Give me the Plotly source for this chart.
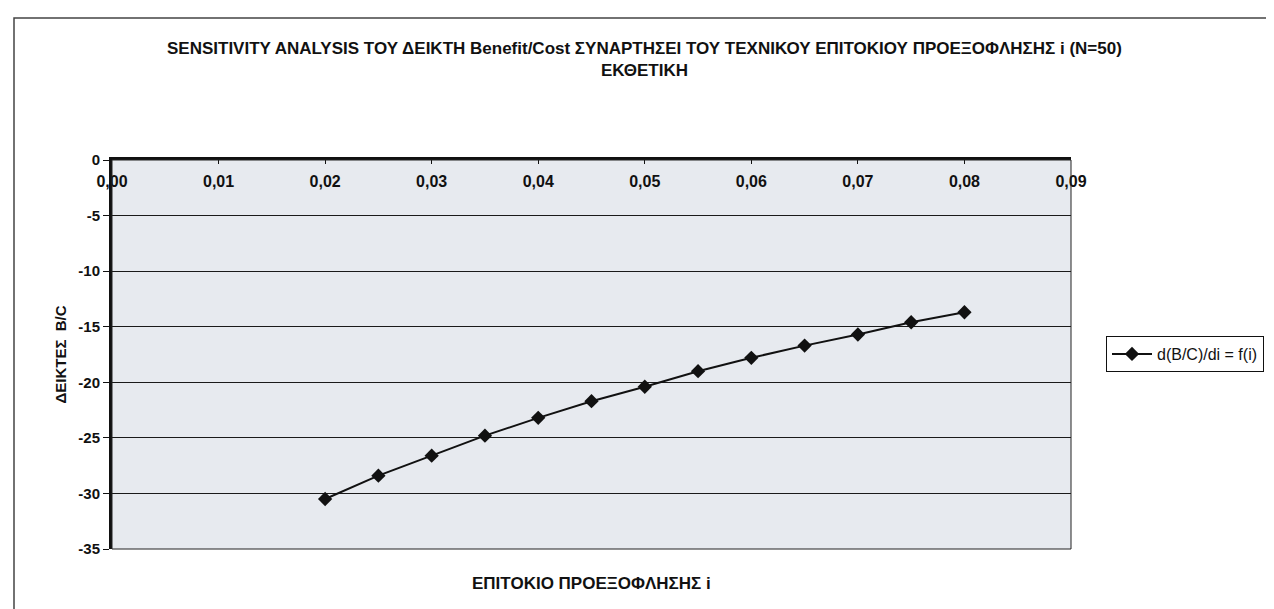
import plotly.graph_objects as go

# Data
rate_i = [0.020, 0.025, 0.030, 0.035, 0.040, 0.045, 0.050, 0.055, 0.060, 0.065, 0.070, 0.075, 0.080]
dbc_di = [-30.5, -28.4, -26.6, -24.8, -23.2, -21.7, -20.4, -19.0, -17.8, -16.7, -15.7, -14.6, -13.7]
x_ticks = [0.00, 0.01, 0.02, 0.03, 0.04, 0.05, 0.06, 0.07, 0.08, 0.09]
x_tick_labels = ["0,00", "0,01", "0,02", "0,03", "0,04", "0,05", "0,06", "0,07", "0,08", "0,09"]
y_ticks = [0, -5, -10, -15, -20, -25, -30, -35]
y_tick_labels = ["0", "-5", "-10", "-15", "-20", "-25", "-30", "-35"]

series_name = "d(B/C)/di = f(i)"
title_line1 = "SENSITIVITY ANALYSIS ΤΟΥ ΔΕΙΚΤΗ Benefit/Cost ΣΥΝΑΡΤΗΣΕΙ ΤΟΥ ΤΕΧΝΙΚΟΥ ΕΠΙΤΟΚΙΟΥ ΠΡΟΕΞΟΦΛΗΣΗΣ i (N=50)"
title_line2 = "ΕΚΘΕΤΙΚΗ"
x_title = "ΕΠΙΤΟΚΙΟ ΠΡΟΕΞΟΦΛΗΣΗΣ i"
y_title = "ΔΕΙΚΤΕΣ  B/C"

FONT = "Liberation Sans, Arial, sans-serif"
INK = "#111111"
W, H = 1274, 609
L, R, T, B = 104, 211, 152, 68
pw, ph = W - L - R, H - T - B


def px_x(p):
    return (p - L) / pw


def px_y(p):
    return (H - B - p) / ph


fig = go.Figure()
fig.add_trace(go.Scatter(
    x=rate_i, y=dbc_di, mode="lines+markers", name=series_name,
    line=dict(color=INK, width=2),
    marker=dict(symbol="diamond", size=11, color=INK),
))
# invisible companion trace so the label axis (xaxis2) is laid out
fig.add_trace(go.Scatter(
    x=rate_i, y=dbc_di, xaxis="x2", mode="markers", showlegend=False,
    hoverinfo="skip", marker=dict(opacity=0),
))

fig.update_layout(
    width=W, height=H,
    margin=dict(l=L, r=R, t=T, b=B, autoexpand=False),
    paper_bgcolor="white",
    plot_bgcolor="#e7eaef",
    font=dict(family=FONT, color=INK),
    showlegend=True,
    legend=dict(
        x=px_x(1098), xanchor="left", y=px_y(346), yanchor="middle",
        bordercolor=INK, borderwidth=1, bgcolor="white",
        font=dict(size=16, family=FONT, color=INK),
        itemwidth=40,
    ),
    xaxis=dict(
        range=[0, 0.09], side="top", tickvals=x_ticks, showticklabels=False,
        ticks="inside", ticklen=4, tickcolor=INK,
        showline=True, linecolor=INK, linewidth=3,
        showgrid=False, zeroline=False,
    ),
    xaxis2=dict(
        matches="x", overlaying="x", anchor="free", position=px_y(182), side="top",
        tickvals=x_ticks, ticktext=x_tick_labels, ticks="", showline=False,
        showgrid=False, zeroline=False, ticklabelstandoff=0,
        tickfont=dict(size=16, family=FONT, color=INK, weight="bold"),
    ),
    yaxis=dict(
        range=[-35, 0], tickvals=y_ticks, ticktext=y_tick_labels,
        ticks="outside", ticklen=6, tickcolor=INK,
        showline=True, linecolor=INK, linewidth=3,
        showgrid=True, gridcolor="#1a1a1a", gridwidth=1.2,
        zeroline=False,
        tickfont=dict(size=15, family=FONT, color=INK, weight="bold"),
    ),
    shapes=[
        dict(type="rect", xref="paper", yref="paper", x0=0, x1=1, y0=0, y1=1,
             line=dict(color="#222222", width=1), layer="above"),
        dict(type="rect", xref="paper", yref="paper",
             x0=px_x(6), x1=px_x(1300), y0=px_y(640), y1=px_y(10),
             line=dict(color="#444444", width=1.5), layer="below"),
    ],
    annotations=[
        dict(text="<b>" + title_line1 + "</b><br><b>" + title_line2 + "</b>",
             xref="paper", yref="paper", x=px_x(636), y=px_y(52),
             xanchor="center", yanchor="middle", showarrow=False,
             font=dict(size=17, family=FONT, color=INK)),
        dict(text="<b>" + x_title + "</b>", xref="paper", yref="paper",
             x=0.5, y=px_y(575), xanchor="center", yanchor="middle", showarrow=False,
             font=dict(size=17, family=FONT, color=INK)),
        dict(text="<b>" + y_title + "</b>", xref="paper", yref="paper",
             x=px_x(52), y=0.5, xanchor="center", yanchor="middle", showarrow=False,
             textangle=-90, font=dict(size=15, family=FONT, color=INK)),
    ],
)

fig.write_html("out.html")
